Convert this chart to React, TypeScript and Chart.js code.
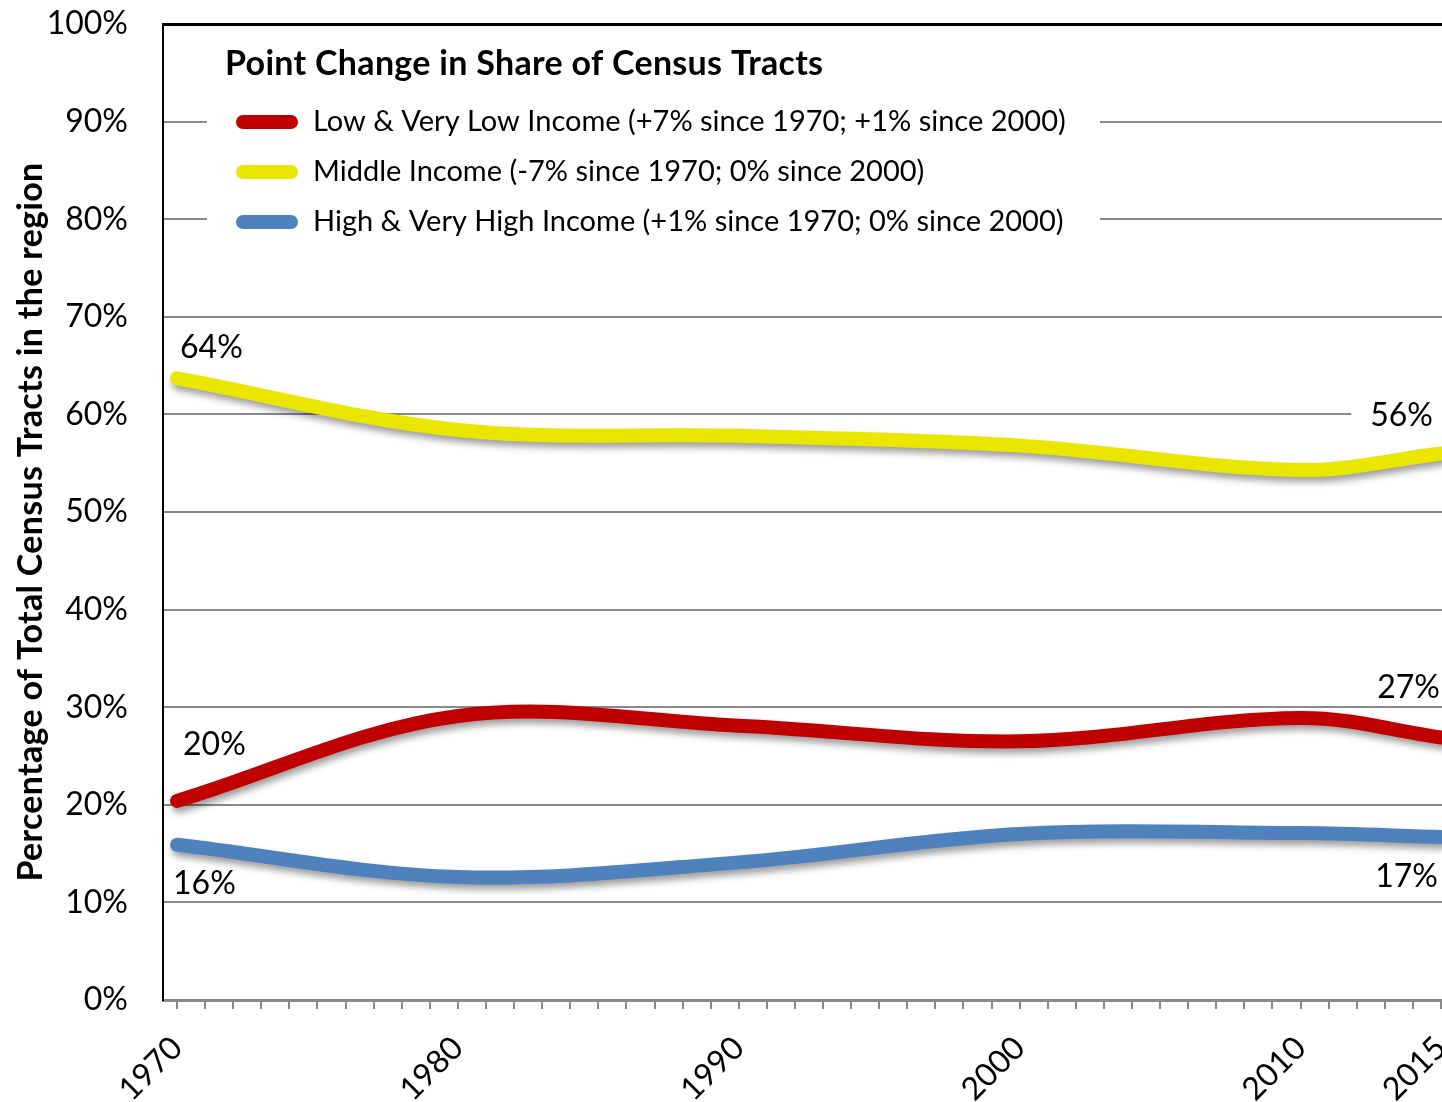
import { useEffect, useRef } from 'react';
import { Chart, registerables } from 'chart.js';

Chart.register(...registerables);

// ---- data ----
const years = [1970, 1980, 1990, 2000, 2010, 2015];
const lowIncome = [20.4, 29.1, 28.1, 26.5, 28.9, 26.9];
const middleIncome = [63.7, 58.4, 57.8, 56.8, 54.3, 56.0];
const highIncome = [15.9, 12.6, 14.1, 17.0, 17.1, 16.7];

const seriesNames = [
  'Low & Very Low Income (+7% since 1970; +1% since 2000)',
  'Middle Income (-7% since 1970; 0% since 2000)',
  'High & Very High Income (+1% since 1970; 0% since 2000)',
];
const seriesColors = ['#C00000', '#EAE600', '#4F81BD'];

const xTickLabels = [1970, 1980, 1990, 2000, 2010, 2015];
const yTickValues = [0, 10, 20, 30, 40, 50, 60, 70, 80, 90, 100];
const legendTitle = 'Point Change in Share of Census Tracts';
const yAxisTitle = 'Percentage of Total Census Tracts in the region';

// value labels: [datasetIndex, pointIndex, text]
const valueLabelTexts = ['20%', '27%', '64%', '56%', '16%', '17%'];
const valueLabelRefs = [
  [0, 0],
  [0, 5],
  [1, 0],
  [1, 5],
  [2, 0],
  [2, 5],
];
// label placement (style, not data)
const valueLabelPlacement = [
  { dx: 6, dy: -56, align: 'left', bg: false },
  { dx: -1, dy: -50, align: 'right', bg: false },
  { dx: 3, dy: -31, align: 'left', bg: false },
  { dx: -8, dy: -38, align: 'right', bg: true },
  { dx: -4, dy: 39, align: 'left', bg: false },
  { dx: -3, dy: 40, align: 'right', bg: false },
];

const FONT = 'Lato, "Open Sans", sans-serif';

export default function App() {
  const canvasRef = useRef<HTMLCanvasElement | null>(null);

  useEffect(() => {
    const canvas = canvasRef.current;
    if (!canvas) return;

    const shadowPlugin = {
      id: 'lineShadow',
      beforeDatasetDraw(chart: any) {
        const ctx = chart.ctx;
        ctx.save();
        ctx.shadowColor = 'rgba(0,0,0,0.38)';
        ctx.shadowBlur = 7;
        ctx.shadowOffsetX = 2;
        ctx.shadowOffsetY = 5;
      },
      afterDatasetDraw(chart: any) {
        chart.ctx.restore();
      },
    };

    const legendPlugin = {
      id: 'customLegend',
      beforeDatasetsDraw(chart: any) {
        const ctx = chart.ctx;
        ctx.save();
        ctx.fillStyle = '#ffffff';
        ctx.fillRect(207, 35, 893, 215);
        ctx.fillStyle = '#000';
        ctx.textBaseline = 'middle';
        ctx.textAlign = 'left';
        ctx.font = `bold 34px ${FONT}`;
        (ctx as any).letterSpacing = '0.3px';
        ctx.fillText(legendTitle, 225, 64);
        (ctx as any).letterSpacing = '0px';
        ctx.font = `29px ${FONT}`;
        const rows = [122, 172, 222];
        seriesNames.forEach((name, i) => {
          ctx.strokeStyle = seriesColors[i];
          ctx.lineWidth = 14;
          ctx.lineCap = 'round';
          ctx.beginPath();
          ctx.moveTo(243, rows[i]);
          ctx.lineTo(291, rows[i]);
          ctx.stroke();
          ctx.fillStyle = '#000';
          ctx.fillText(name, 313, rows[i]);
        });
        ctx.restore();
      },
    };

    const labelsPlugin = {
      id: 'valueLabels',
      afterDatasetsDraw(chart: any) {
        const ctx = chart.ctx;
        ctx.save();
        ctx.font = `32px ${FONT}`;
        ctx.textBaseline = 'middle';
        valueLabelTexts.forEach((text, i) => {
          const [ds, idx] = valueLabelRefs[i];
          const p = valueLabelPlacement[i];
          const pt = chart.getDatasetMeta(ds).data[idx];
          const x = pt.x + p.dx;
          const y = pt.y + p.dy;
          ctx.textAlign = p.align;
          if (p.bg) {
            const w = ctx.measureText(text).width;
            const left = p.align === 'right' ? x - w : x;
            ctx.fillStyle = '#fff';
            ctx.fillRect(left - 19, y - 18, w + 40, 36);
          }
          ctx.fillStyle = '#000';
          ctx.fillText(text, x, y);
        });
        ctx.restore();
      },
    };

    const yTitlePlugin = {
      id: 'yTitle',
      afterDraw(chart: any) {
        const ctx = chart.ctx;
        const area = chart.chartArea;
        ctx.save();
        ctx.translate(31, (area.top + area.bottom) / 2 + 10);
        ctx.rotate(-Math.PI / 2);
        ctx.font = `bold 34px ${FONT}`;
        (ctx as any).letterSpacing = '0.3px';
        ctx.fillStyle = '#000';
        ctx.textAlign = 'center';
        ctx.textBaseline = 'middle';
        ctx.fillText(yAxisTitle, 0, 0);
        ctx.restore();
      },
    };

    const makeData = (vals: number[]) => years.map((y, i) => ({ x: y, y: vals[i] }));

    const chart = new Chart(canvas, {
      type: 'line',
      data: {
        datasets: [lowIncome, middleIncome, highIncome].map((vals, i) => ({
          label: seriesNames[i],
          data: makeData(vals),
          borderColor: seriesColors[i],
          backgroundColor: seriesColors[i],
          borderWidth: 14,
          borderCapStyle: 'round',
          borderJoinStyle: 'round',
          pointRadius: 0,
          pointHoverRadius: 0,
          tension: 0.35,
          fill: false,
        })),
      },
      options: {
        animation: false,
        responsive: false,
        devicePixelRatio: 1,
        layout: { padding: { top: 24, right: 15, left: 0, bottom: 0 } },
        plugins: {
          legend: { display: false },
          tooltip: { enabled: false },
        },
        scales: {
          x: {
            type: 'linear',
            min: 1969.5,
            max: 2015.5,
            afterBuildTicks(scale: any) {
              const t = [];
              for (let y = 1970; y <= 2015; y++) t.push({ value: y });
              scale.ticks = t;
            },
            afterFit(scale: any) {
              scale.height = 102;
              scale.paddingLeft = 0;
              scale.paddingRight = 0;
            },
            ticks: {
              autoSkip: false,
              minRotation: 45,
              maxRotation: 45,
              padding: 20,
              color: '#000',
              font: { family: FONT, size: 32 },
              callback: (v: any) => (xTickLabels.includes(Number(v)) ? String(v) : ''),
            },
            grid: {
              drawOnChartArea: false,
              drawTicks: true,
              tickLength: 9,
              color: '#8a8a8a',
              lineWidth: 2,
            },
            border: { color: '#8a8a8a', width: 3 },
          },
          y: {
            type: 'linear',
            min: 0,
            max: 100,
            afterBuildTicks(scale: any) {
              scale.ticks = yTickValues.map((v) => ({ value: v }));
            },
            afterFit(scale: any) {
              scale.width = 163;
              scale.paddingTop = 0;
              scale.paddingBottom = 0;
            },
            ticks: {
              padding: 35,
              color: '#000',
              font: { family: FONT, size: 32 },
              callback: (v: any) => `${v}%`,
            },
            grid: {
              drawTicks: false,
              color: (c: any) => (c.tick && c.tick.value === 100 ? '#000' : '#8a8a8a'),
              lineWidth: (c: any) => (c.tick && c.tick.value === 100 ? 3 : 2),
            },
            border: { color: '#000', width: 2 },
          },
        },
      } as any,
      plugins: [legendPlugin, shadowPlugin, labelsPlugin, yTitlePlugin],
    });

    return () => chart.destroy();
  }, []);

  return (
    <div
      style={{
        position: 'fixed',
        left: 0,
        top: 0,
        width: 1442,
        height: 1102,
        overflow: 'hidden',
        background: '#fff',
      }}
    >
      <canvas ref={canvasRef} width={1470} height={1102} style={{ display: 'block' }} />
    </div>
  );
}
